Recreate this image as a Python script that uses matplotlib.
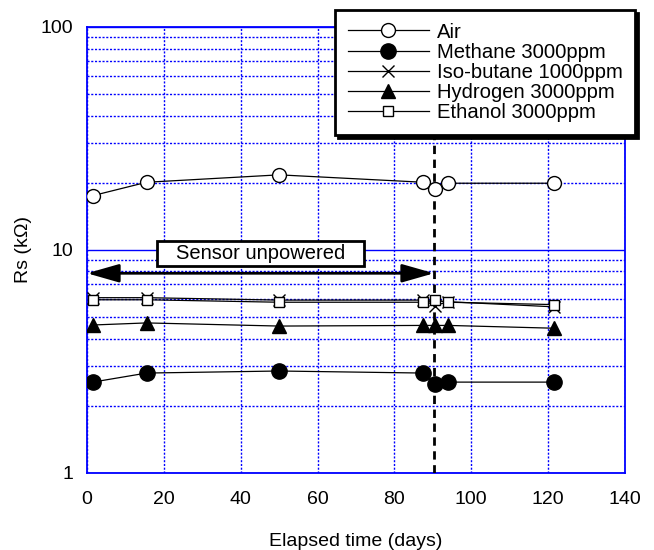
import matplotlib
matplotlib.use("Agg")
import matplotlib.pyplot as plt
from matplotlib.patches import Rectangle
from matplotlib.ticker import FixedLocator, NullFormatter

plt.rcParams['font.family'] = ['Liberation Sans', 'DejaVu Sans']
plt.rcParams['font.size'] = 14

# data
days = [1.5, 15.5, 50, 87.5, 90.5, 94, 121.5]
air = [17.5, 20.1, 21.7, 20.1, 18.8, 19.9, 19.9]
methane = [2.55, 2.80, 2.86, 2.80, 2.49, 2.55, 2.55]
isobutane = [6.1, 6.1, 5.95, 5.95, 5.62, 5.85, 5.55]
hydrogen = [4.6, 4.7, 4.55, 4.58, 4.58, 4.58, 4.45]
ethanol = [5.97, 5.97, 5.82, 5.82, 5.95, 5.82, 5.68]
power_off_day = 90.3
arrow_level = 7.85
xticks = [0, 20, 40, 60, 80, 100, 120, 140]

fig = plt.figure(figsize=(6.54, 5.5), dpi=100)
ax = fig.add_axes([0.133, 0.1405, 0.8227, 0.8105])
ax.set_yscale("log")
ax.set_xlim(0, 140)
ax.set_ylim(1, 100)

# grid
ax.set_xticks(xticks)
ax.yaxis.set_minor_locator(FixedLocator([i * d for d in (1, 10) for i in range(2, 10)]))
ax.yaxis.set_minor_formatter(NullFormatter())
ax.set_yticks([1, 10, 100])
ax.set_yticklabels(["1", "10", "100"])
dots = (0, (1.5, 1.2))
ax.tick_params(axis="x", which="major", grid_color="blue", grid_linestyle=dots,
               grid_linewidth=1.0)
ax.tick_params(axis="y", which="major", grid_color="blue", grid_linestyle="-",
               grid_linewidth=1.0)
ax.tick_params(axis="y", which="minor", grid_color="blue", grid_linestyle=dots,
               grid_linewidth=1.0)
ax.grid(axis="x", which="major")
ax.grid(axis="y", which="both")
ax.tick_params(which="both", length=0)
ax.tick_params(axis="x", pad=13)
ax.tick_params(axis="y", pad=10)
for s in ax.spines.values():
    s.set_color("blue")
    s.set_linewidth(1.3)

# power-off marker
ax.axvline(power_off_day, color="black", ls=(0, (3, 2)), lw=2, zorder=3)

lk = dict(color="black", lw=0.9, zorder=4)
ax.plot(days, air, marker="o", ms=10, mfc="white", mec="black", mew=1, label="Air", **lk)
ax.plot(days, methane, marker="o", ms=11, mfc="black", mec="black", label="Methane 3000ppm", **lk)
ax.plot(days, isobutane, marker="x", ms=9, mew=1, mec="black", label="Iso-butane 1000ppm", **lk)
ax.plot(days, hydrogen, marker="^", ms=10, mfc="black", mec="black", label="Hydrogen 3000ppm", **lk)
ax.plot(days, ethanol, marker="s", ms=7.5, mfc="white", mec="black", mew=1, label="Ethanol 3000ppm", **lk)

# unpowered period
ax.annotate("", xy=(0, arrow_level), xytext=(power_off_day, arrow_level),
            arrowprops=dict(arrowstyle="<|-|>,head_length=1.4,head_width=0.4",
                            color="black", lw=2, shrinkA=0, shrinkB=0), zorder=5)
ax.add_patch(Rectangle((0.130, 0.463), 0.385, 0.057, transform=ax.transAxes,
                       facecolor="white", edgecolor="black", lw=2, zorder=6))
ax.text(0.3225, 0.4915, "Sensor unpowered", transform=ax.transAxes,
        ha="center", va="center", fontsize=14.5, zorder=7)

ax.set_xlabel("Elapsed time (days)", labelpad=18)
ax.set_ylabel("Rs (kΩ)", labelpad=6)

leg = ax.legend(loc="upper left", bbox_to_anchor=(335 / 654, 1 - 10 / 550),
                bbox_transform=fig.transFigure, borderaxespad=0,
                fancybox=False, shadow={"color": "black", "alpha": 1},
                framealpha=1, edgecolor="black", handlelength=4.0,
                handletextpad=0.4, labelspacing=0.06, borderpad=0.62,
                fontsize=14.6)
leg.get_frame().set_linewidth(2)
leg.set_zorder(10)

fig.savefig("out.png", dpi=100)
